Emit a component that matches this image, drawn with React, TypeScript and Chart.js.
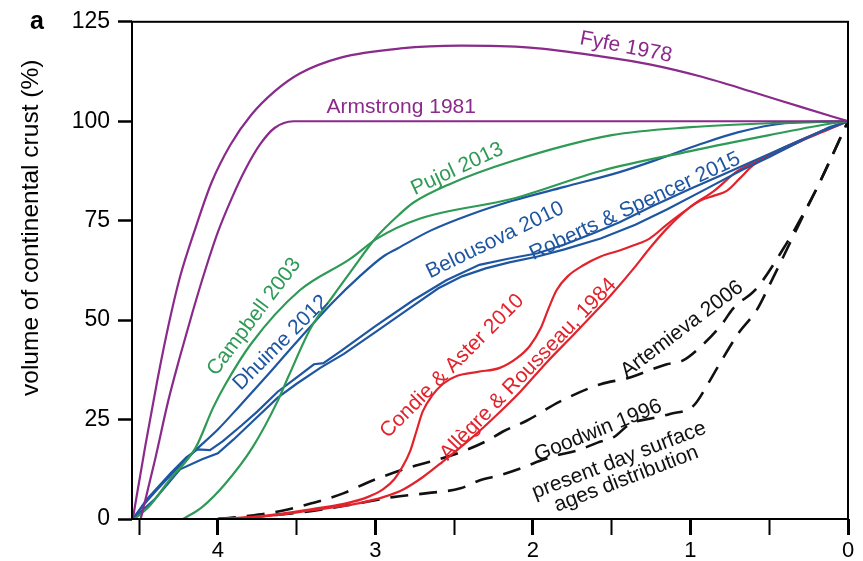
import React, { useEffect, useRef } from 'react';
import { Chart, registerables } from 'chart.js';

Chart.register(...registerables);

const FONT = '"Liberation Sans", Arial, Helvetica, sans-serif';
const PURPLE = '#8a2a8a';
const GREEN = '#2e9a55';
const BLUE = '#1f56a2';
const RED = '#e2232c';
const BLACK = '#111111';

// ---- data (age in Ga, volume of continental crust in %) ----
const fyfeAge = [4.54, 4.46, 4.385, 4.315, 4.24, 4.14, 4.04, 3.92, 3.79, 3.64, 3.48, 3.22, 2.84, 2.46, 2.02, 1.57, 1.26, 0.94, 0.6, 0.3, 0];
const fyfeVol = [0, 18.5, 34.7, 48.4, 60.9, 73.4, 84.6, 94.1, 101.5, 107.5, 112, 116, 118.3, 119, 118.5, 116.3, 114.3, 111.3, 107.3, 103.6, 100];

const armstrongAge = [4.49, 4.4, 4.315, 4.24, 4.16, 4.08, 4.0, 3.91, 3.82, 3.73, 3.64, 3.52, 2.5, 1.5, 0];
const armstrongVol = [0, 14.7, 29.7, 40.9, 52.1, 62.6, 72.1, 80.8, 88.3, 94.3, 98.3, 100, 100, 100, 100];

const campbellAge = [4.53, 4.44, 4.31, 4.14, 4.03, 3.95, 3.79, 3.48, 3.16, 2.99, 2.72, 2.13, 1.57, 1.0, 0.5, 0.1, 0];
const campbellVol = [0, 3, 9.7, 18, 28, 34, 44, 57.5, 65.4, 70.5, 75.5, 80.5, 87.5, 92.5, 96.5, 99.5, 100];

const pujolAge = [4.22, 4.1, 3.95, 3.78, 3.62, 3.55, 3.41, 3.27, 3.16, 2.99, 2.85, 2.76, 2.54, 2.13, 1.5, 1.0, 0.5, 0];
const pujolVol = [0, 3, 9, 18, 29.7, 36, 48, 56, 62, 71, 76.5, 79.5, 84, 90, 96.5, 98.5, 99.5, 100];

const dhuimeAge = [4.54, 4.45, 4.3, 4.15, 4.0, 3.86, 3.7, 3.5, 3.27, 3.1, 2.95, 2.86, 2.65, 2.4, 2.13, 1.8, 1.45, 1.2, 0.94, 0.7, 0.4, 0];
const dhuimeVol = [0, 4.5, 11, 17, 22.5, 28.5, 35.5, 44.5, 54.5, 61, 66, 68, 72.5, 76.5, 80, 83.5, 87.2, 90.5, 94.2, 97.2, 99.5, 100];

const belousovaAge = [4.54, 4.45, 4.3, 4.2, 4.13, 4.05, 3.97, 3.85, 3.75, 3.62, 3.52, 3.39, 3.33, 3.22, 3.0, 2.76, 2.55, 2.34, 2.15, 1.97, 1.8, 1.62, 1.45, 1.25, 1.0, 0.8, 0.6, 0.4, 0.2, 0];
const belousovaVol = [0, 5, 11.5, 15.5, 17.5, 17.3, 19.5, 23.5, 27, 32, 35, 38.9, 39.2, 42.2, 48.5, 55, 60, 63.9, 65.5, 66.8, 69, 71.8, 74.6, 78.5, 83, 86.5, 90, 93.5, 97, 100];

const robertsAge = [4.54, 4.4, 4.24, 4.1, 4.0, 3.9, 3.78, 3.62, 3.5, 3.35, 3.2, 3.0, 2.8, 2.6, 2.45, 2.3, 2.15, 1.97, 1.8, 1.57, 1.35, 1.15, 0.9, 0.67, 0.5, 0.3, 0.12, 0];
const robertsVol = [0, 5, 12.5, 15, 16.5, 20, 24.5, 30.5, 34, 38, 41.5, 47, 52.5, 58, 61, 63, 64.5, 66, 67.8, 70.5, 74, 77.8, 83, 87.8, 91, 95, 98.5, 100];

const condieAge = [4.0, 3.8, 3.6, 3.4, 3.2, 3.05, 2.95, 2.88, 2.83, 2.78, 2.74, 2.7, 2.64, 2.57, 2.48, 2.35, 2.21, 2.1, 2.02, 1.95, 1.9, 1.85, 1.78, 1.68, 1.57, 1.45, 1.36, 1.26, 1.15, 1.05, 0.94, 0.85, 0.77, 0.69, 0.6, 0.51, 0.3, 0.15, 0];
const condieVol = [0, 0.5, 1.3, 2.5, 3.8, 5.5, 7.5, 10, 13, 17, 22, 27, 31, 34, 36, 37, 38, 40.5, 43.5, 48, 53, 57.5, 61, 63.8, 66, 67.5, 68.8, 70.5, 74, 77, 80, 81.3, 82.5, 85.5, 89, 91, 95, 97.5, 100];

const allegreAge = [4.0, 3.8, 3.6, 3.4, 3.2, 3.1, 2.95, 2.82, 2.7, 2.57, 2.4, 2.25, 2.08, 1.91, 1.75, 1.62, 1.5, 1.36, 1.26, 1.15, 1.0, 0.85, 0.7, 0.56, 0.4, 0.2, 0];
const allegreVol = [0, 0.4, 1.1, 2.2, 3.3, 4, 5.5, 7.5, 10.5, 14.5, 20, 25.4, 32, 39.5, 46, 51.4, 56.5, 63, 68, 73, 78.5, 82.5, 87.5, 90.3, 93.5, 97, 100];

const artemievaAge = [4.0, 3.8, 3.6, 3.4, 3.2, 3.03, 2.78, 2.5, 2.3, 2.19, 2.04, 1.83, 1.57, 1.4, 1.15, 1.05, 0.92, 0.8, 0.73, 0.58, 0.41, 0.3, 0.18, 0];
const artemievaVol = [0, 0.8, 2, 4, 6.5, 9.5, 13, 16.2, 19.5, 22, 24.7, 29.5, 33.9, 35.4, 38.9, 39.8, 43.9, 49, 52.9, 58, 68, 75.5, 84.6, 100];

const goodwinAge = [4.0, 3.7, 3.4, 3.1, 2.89, 2.67, 2.46, 2.34, 2.21, 2.08, 1.95, 1.85, 1.72, 1.59, 1.49, 1.38, 1.26, 1.13, 0.98, 0.89, 0.83, 0.69, 0.58, 0.49, 0.41, 0.3, 0.18, 0];
const goodwinVol = [0, 0.8, 2, 4, 5.5, 6.5, 7.7, 9.7, 11, 12.7, 14.7, 16, 17.2, 19.2, 20.5, 24, 25.2, 26.4, 28.5, 33.9, 38, 47, 52.5, 59.5, 66, 75, 84.6, 100];

const xTicks = [4.5, 4, 3.5, 3, 2.5, 2, 1.5, 1, 0.5, 0];
const yTicks = [0, 25, 50, 75, 100, 125];

const yTitle = 'volume of continental crust (%)';
const panelLetter = 'a';

// curve labels: anchor in data coords, rotation in degrees
const curveLabels = [
  { text: ['Fyfe 1978'], x: 1.41, y: 118.6, angle: 11, color: PURPLE },
  { text: ['Armstrong 1981'], x: 2.836, y: 103.5, angle: 0, color: PURPLE },
  { text: ['Pujol 2013'], x: 2.481, y: 88.0, angle: -25, color: GREEN },
  { text: ['Campbell 2003'], x: 3.77, y: 50.8, angle: -53, color: GREEN },
  { text: ['Dhuime 2012'], x: 3.6, y: 44.3, angle: -45, color: BLUE },
  { text: ['Belousova 2010'], x: 2.24, y: 70.1, angle: -26, color: BLUE },
  { text: ['Roberts & Spencer 2015'], x: 1.352, y: 78.6, angle: -25, color: BLUE },
  { text: ['Condie & Aster 2010'], x: 2.513, y: 38.4, angle: -45, color: RED },
  { text: ['Allègre & Rousseau, 1984'], x: 2.03, y: 37.6, angle: -46, color: RED },
  { text: ['Artemieva 2006'], x: 1.053, y: 47.7, angle: -37, color: BLACK },
  { text: ['Goodwin 1996'], x: 1.586, y: 22.2, angle: -22, color: BLACK },
  { text: ['present day surface', 'ages distribution'], x: 1.43, y: 12.4, angle: -21, color: BLACK },
];

const pts = (a: number[], v: number[]) => a.map((x, i) => ({ x, y: v[i] }));

const labelPlugin = {
  id: 'curveLabels',
  afterDatasetsDraw(chart: any) {
    const { ctx, chartArea, scales } = chart;
    ctx.save();
    // frame
    ctx.strokeStyle = '#000';
    ctx.lineWidth = 2;
    ctx.strokeRect(chartArea.left, chartArea.top, chartArea.right - chartArea.left, chartArea.bottom - chartArea.top);
    // labels
    ctx.font = `21px ${FONT}`;
    ctx.textAlign = 'center';
    ctx.textBaseline = 'middle';
    for (const l of curveLabels) {
      const px = scales.x.getPixelForValue(l.x);
      const py = scales.y.getPixelForValue(l.y);
      ctx.save();
      ctx.translate(px, py);
      ctx.rotate((l.angle * Math.PI) / 180);
      ctx.fillStyle = l.color;
      const lh = 20;
      l.text.forEach((t, i) => {
        ctx.fillText(t, 0, (i - (l.text.length - 1) / 2) * lh);
      });
      ctx.restore();
    }
    // y title
    ctx.save();
    ctx.translate(chartArea.left - 101, chartArea.top + 206);
    ctx.rotate(-Math.PI / 2);
    ctx.fillStyle = '#000';
    ctx.font = `24.5px ${FONT}`;
    ctx.fillText(yTitle, 0, 0);
    ctx.restore();
    // panel letter
    ctx.fillStyle = '#000';
    ctx.font = `bold 25px ${FONT}`;
    ctx.fillText(panelLetter, chartArea.left - 95, chartArea.top);
    ctx.restore();
  },
};

export default function App() {
  const ref = useRef<HTMLCanvasElement | null>(null);
  useEffect(() => {
    if (!ref.current) return;
    const smooth = (label: string, data: any, color: string) => ({
      label, data, borderColor: color, borderWidth: 2.2, fill: false,
      cubicInterpolationMode: 'monotone' as const, pointRadius: 0,
    });
    const jag = (label: string, data: any, color: string) => ({
      label, data, borderColor: color, borderWidth: 2.2, fill: false, tension: 0, pointRadius: 0,
    });
    const dash = (label: string, data: any) => ({
      label, data, borderColor: BLACK, borderWidth: 2.6, fill: false,
      cubicInterpolationMode: 'monotone' as const, pointRadius: 0, borderDash: [18, 11],
    });
    const chart = new Chart(ref.current, {
      type: 'line',
      data: {
        datasets: [
          smooth('Fyfe 1978', pts(fyfeAge, fyfeVol), PURPLE),
          smooth('Armstrong 1981', pts(armstrongAge, armstrongVol), PURPLE),
          smooth('Campbell 2003', pts(campbellAge, campbellVol), GREEN),
          smooth('Pujol 2013', pts(pujolAge, pujolVol), GREEN),
          smooth('Dhuime 2012', pts(dhuimeAge, dhuimeVol), BLUE),
          jag('Belousova 2010', pts(belousovaAge, belousovaVol), BLUE),
          jag('Roberts & Spencer 2015', pts(robertsAge, robertsVol), BLUE),
          smooth('Condie & Aster 2010', pts(condieAge, condieVol), RED),
          smooth('Allègre & Rousseau 1984', pts(allegreAge, allegreVol), RED),
          dash('Artemieva 2006', pts(artemievaAge, artemievaVol)),
          dash('Goodwin 1996', pts(goodwinAge, goodwinVol)),
        ],
      },
      options: {
        animation: false,
        responsive: false,
        maintainAspectRatio: false,
        parsing: false as any,
        layout: { padding: { top: 18, right: 15, left: 0, bottom: 0 } },
        plugins: { legend: { display: false }, tooltip: { enabled: false } },
        elements: { point: { radius: 0 } },
        scales: {
          x: {
            type: 'linear',
            reverse: true,
            min: 0,
            max: 4.545,
            afterFit: (s: any) => { s.height = 42; },
            afterBuildTicks: (s: any) => { s.ticks = xTicks.map((v) => ({ value: v })); },
            ticks: {
              autoSkip: false,
              maxRotation: 0,
              padding: 3,
              color: '#000',
              font: { size: 22, family: FONT },
              callback: (v: any) => (Number.isInteger(Number(v)) ? String(v) : ''),
            },
            grid: {
              drawOnChartArea: false,
              drawTicks: true,
              tickLength: 16,
              tickColor: '#000',
              tickWidth: (c: any) => (c.tick && Number.isInteger(c.tick.value) ? 3 : 2),
            },
            border: { display: false },
          },
          y: {
            type: 'linear',
            min: 0,
            max: 125,
            afterFit: (s: any) => { s.width = 132; },
            afterBuildTicks: (s: any) => { s.ticks = yTicks.map((v) => ({ value: v })); },
            ticks: { padding: 8, color: '#000', font: { size: 23, family: FONT } },
            grid: { drawOnChartArea: false, drawTicks: true, tickLength: 14, tickColor: '#000', tickWidth: 2.5 },
            border: { display: false },
          },
        },
      },
      plugins: [labelPlugin],
    } as any);
    return () => chart.destroy();
  }, []);
  return (
    <div style={{ position: 'fixed', left: 0, top: 0, width: 863, height: 561, background: '#fff' }}>
      <canvas ref={ref} width={863} height={561} style={{ width: 863, height: 561, display: 'block' }} />
    </div>
  );
}
